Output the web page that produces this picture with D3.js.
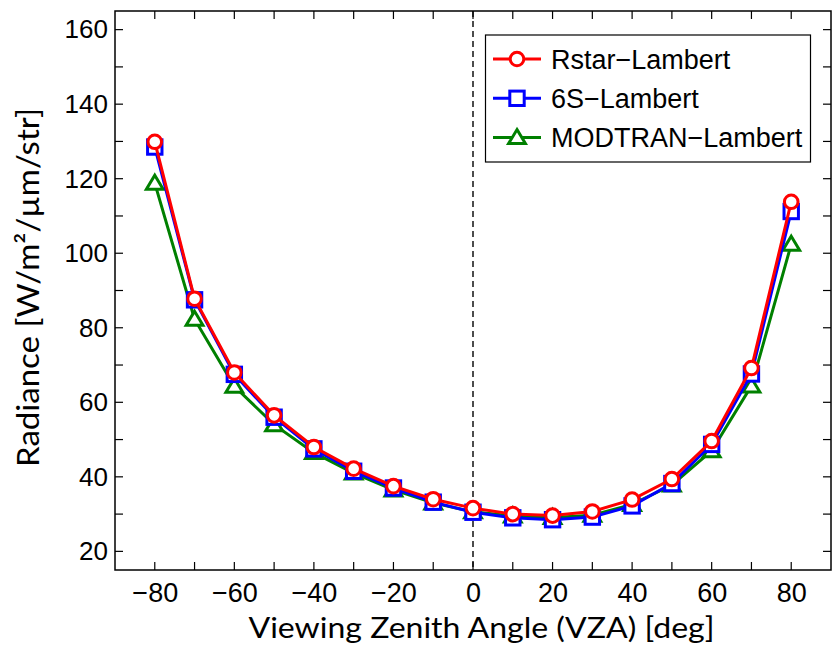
<!DOCTYPE html>
<html>
<head>
<meta charset="utf-8">
<script src="https://cdn.jsdelivr.net/npm/d3@7"></script>
<style>
  html, body { margin: 0; padding: 0; background: #fff; }
  svg { display: block; }
</style>
</head>
<body>
<svg id="chart" width="834" height="648"></svg>
<script>
const vza = [-80, -70, -60, -50, -40, -30, -20, -10, 0, 10, 20, 30, 40, 50, 60, 70, 80];
const rstar   = [129.9, 87.8, 68.0, 56.5, 48.0, 42.2, 37.5, 34.0, 31.6, 30.0, 29.6, 30.7, 33.9, 39.4, 49.6, 69.2, 113.8];
const sixS    = [128.5, 87.5, 67.5, 56.0, 47.5, 41.5, 37.0, 33.2, 30.5, 29.0, 28.5, 29.2, 32.2, 38.2, 48.7, 67.6, 111.2];
const modtran = [118.8, 82.3, 64.3, 54.0, 46.5, 41.0, 36.5, 33.0, 30.6, 29.5, 29.1, 29.7, 32.6, 37.8, 47.0, 64.4, 102.4];
const xTicks = [-80, -60, -40, -20, 0, 20, 40, 60, 80];
const yTicks = [20, 40, 60, 80, 100, 120, 140, 160];
const seriesNames = ["Rstar\u2212Lambert", "6S\u2212Lambert", "MODTRAN\u2212Lambert"];

const svg = d3.select("#chart");
const L = 115, R = 831, T = 11, B = 570;
const x = d3.scaleLinear().domain([-90, 90]).range([L, R]);
const y = d3.scaleLinear().domain([15, 165]).range([B, T]);

const tickFont = "'Liberation Sans', Arial, sans-serif";
const titleFont = "Lato, 'Open Sans', sans-serif";
const minorX = d3.range(-90, 91, 10);
const minorY = d3.range(20, 161, 10);
const tl = 8;

// frame
svg.append("rect").attr("x", L).attr("y", T).attr("width", R - L).attr("height", B - T)
  .attr("fill", "none").attr("stroke", "#000").attr("stroke-width", 1.5);

// ticks (inward, all sides)
const tg = svg.append("g").attr("stroke", "#000").attr("stroke-width", 1.2);
minorX.filter(v => v > -90 && v < 90).forEach(v => {
  tg.append("line").attr("x1", x(v)).attr("x2", x(v)).attr("y1", B).attr("y2", B - tl);
  tg.append("line").attr("x1", x(v)).attr("x2", x(v)).attr("y1", T).attr("y2", T + tl);
});
minorY.forEach(v => {
  tg.append("line").attr("y1", y(v)).attr("y2", y(v)).attr("x1", L).attr("x2", L + tl);
  tg.append("line").attr("y1", y(v)).attr("y2", y(v)).attr("x1", R).attr("x2", R - tl);
});

// tick labels via axes (no lines)
const xAxis = svg.append("g").attr("transform", `translate(0,${B})`)
  .call(d3.axisBottom(x).tickValues(xTicks).tickSize(0).tickPadding(13));
xAxis.select(".domain").remove();
xAxis.selectAll("text").attr("font-family", tickFont).attr("font-size", 27).attr("fill", "#000").attr("dy", "0.71em");

const yAxis = svg.append("g").attr("transform", `translate(${L},0)`)
  .call(d3.axisLeft(y).tickValues(yTicks).tickSize(0).tickPadding(7));
yAxis.select(".domain").remove();
yAxis.selectAll("text").attr("font-family", tickFont).attr("font-size", 26).attr("fill", "#000");

// dashed zero line
svg.append("line").attr("x1", x(0)).attr("x2", x(0)).attr("y1", T).attr("y2", B)
  .attr("stroke", "#000").attr("stroke-width", 1.4).attr("stroke-dasharray", "6,4");

// series
const series = [
  { vals: modtran, color: "#008000", shape: "tri" },
  { vals: sixS, color: "#0000ff", shape: "sq" },
  { vals: rstar, color: "#ff0000", shape: "circ" }
];

function marker(g, shape, color, cx, cy) {
  if (shape === "circ") {
    g.append("circle").attr("cx", cx).attr("cy", cy).attr("r", 6.8)
      .attr("fill", "#fff").attr("stroke", color).attr("stroke-width", 3);
  } else if (shape === "sq") {
    g.append("rect").attr("x", cx - 7.2).attr("y", cy - 7.2).attr("width", 14.4).attr("height", 14.4)
      .attr("fill", "#fff").attr("stroke", color).attr("stroke-width", 3);
  } else {
    const s = 8;
    g.append("path").attr("d", `M${cx},${cy - s}L${cx + s * 1.05},${cy + s * 0.75}L${cx - s * 1.05},${cy + s * 0.75}Z`)
      .attr("fill", "#fff").attr("stroke", color).attr("stroke-width", 3).attr("stroke-linejoin", "miter");
  }
}

const line = d3.line().x(d => x(d[0])).y(d => y(d[1]));
series.forEach(s => {
  const g = svg.append("g");
  const pts = vza.map((v, i) => [v, s.vals[i]]);
  g.append("path").attr("d", line(pts)).attr("fill", "none").attr("stroke", s.color).attr("stroke-width", 3);
  pts.forEach(p => marker(g, s.shape, s.color, x(p[0]), y(p[1])));
});

// legend
const lg = svg.append("g");
lg.append("rect").attr("x", 485.5).attr("y", 35).attr("width", 325).attr("height", 127)
  .attr("fill", "#fff").attr("stroke", "#000").attr("stroke-width", 1.2);
const legendItems = [
  { name: seriesNames[0], color: "#ff0000", shape: "circ" },
  { name: seriesNames[1], color: "#0000ff", shape: "sq" },
  { name: seriesNames[2], color: "#008000", shape: "tri" }
];
legendItems.forEach((it, i) => {
  const cy = 59 + i * 39.3;
  lg.append("line").attr("x1", 493).attr("x2", 541).attr("y1", cy).attr("y2", cy)
    .attr("stroke", it.color).attr("stroke-width", 3);
  marker(lg, it.shape, it.color, 517, cy);
  lg.append("text").attr("x", 551).attr("y", cy).attr("dy", "0.36em")
    .attr("font-family", tickFont).attr("font-size", 27).attr("fill", "#000").text(it.name);
});

// axis titles
svg.append("text").attr("x", 481.5).attr("y", 638).attr("text-anchor", "middle")
  .attr("font-family", titleFont).attr("font-size", 29).attr("fill", "#000")
  .attr("textLength", 466).attr("lengthAdjust", "spacingAndGlyphs")
  .text("Viewing Zenith Angle (VZA) [deg]");
svg.append("text").attr("transform", `translate(38.5,287.5) rotate(-90)`).attr("text-anchor", "middle")
  .attr("font-family", titleFont).attr("font-size", 30).attr("fill", "#000")
  .attr("textLength", 359).attr("lengthAdjust", "spacingAndGlyphs")
  .text("Radiance [W/m\u00B2/\u00B5m/str]");
</script>
</body>
</html>
